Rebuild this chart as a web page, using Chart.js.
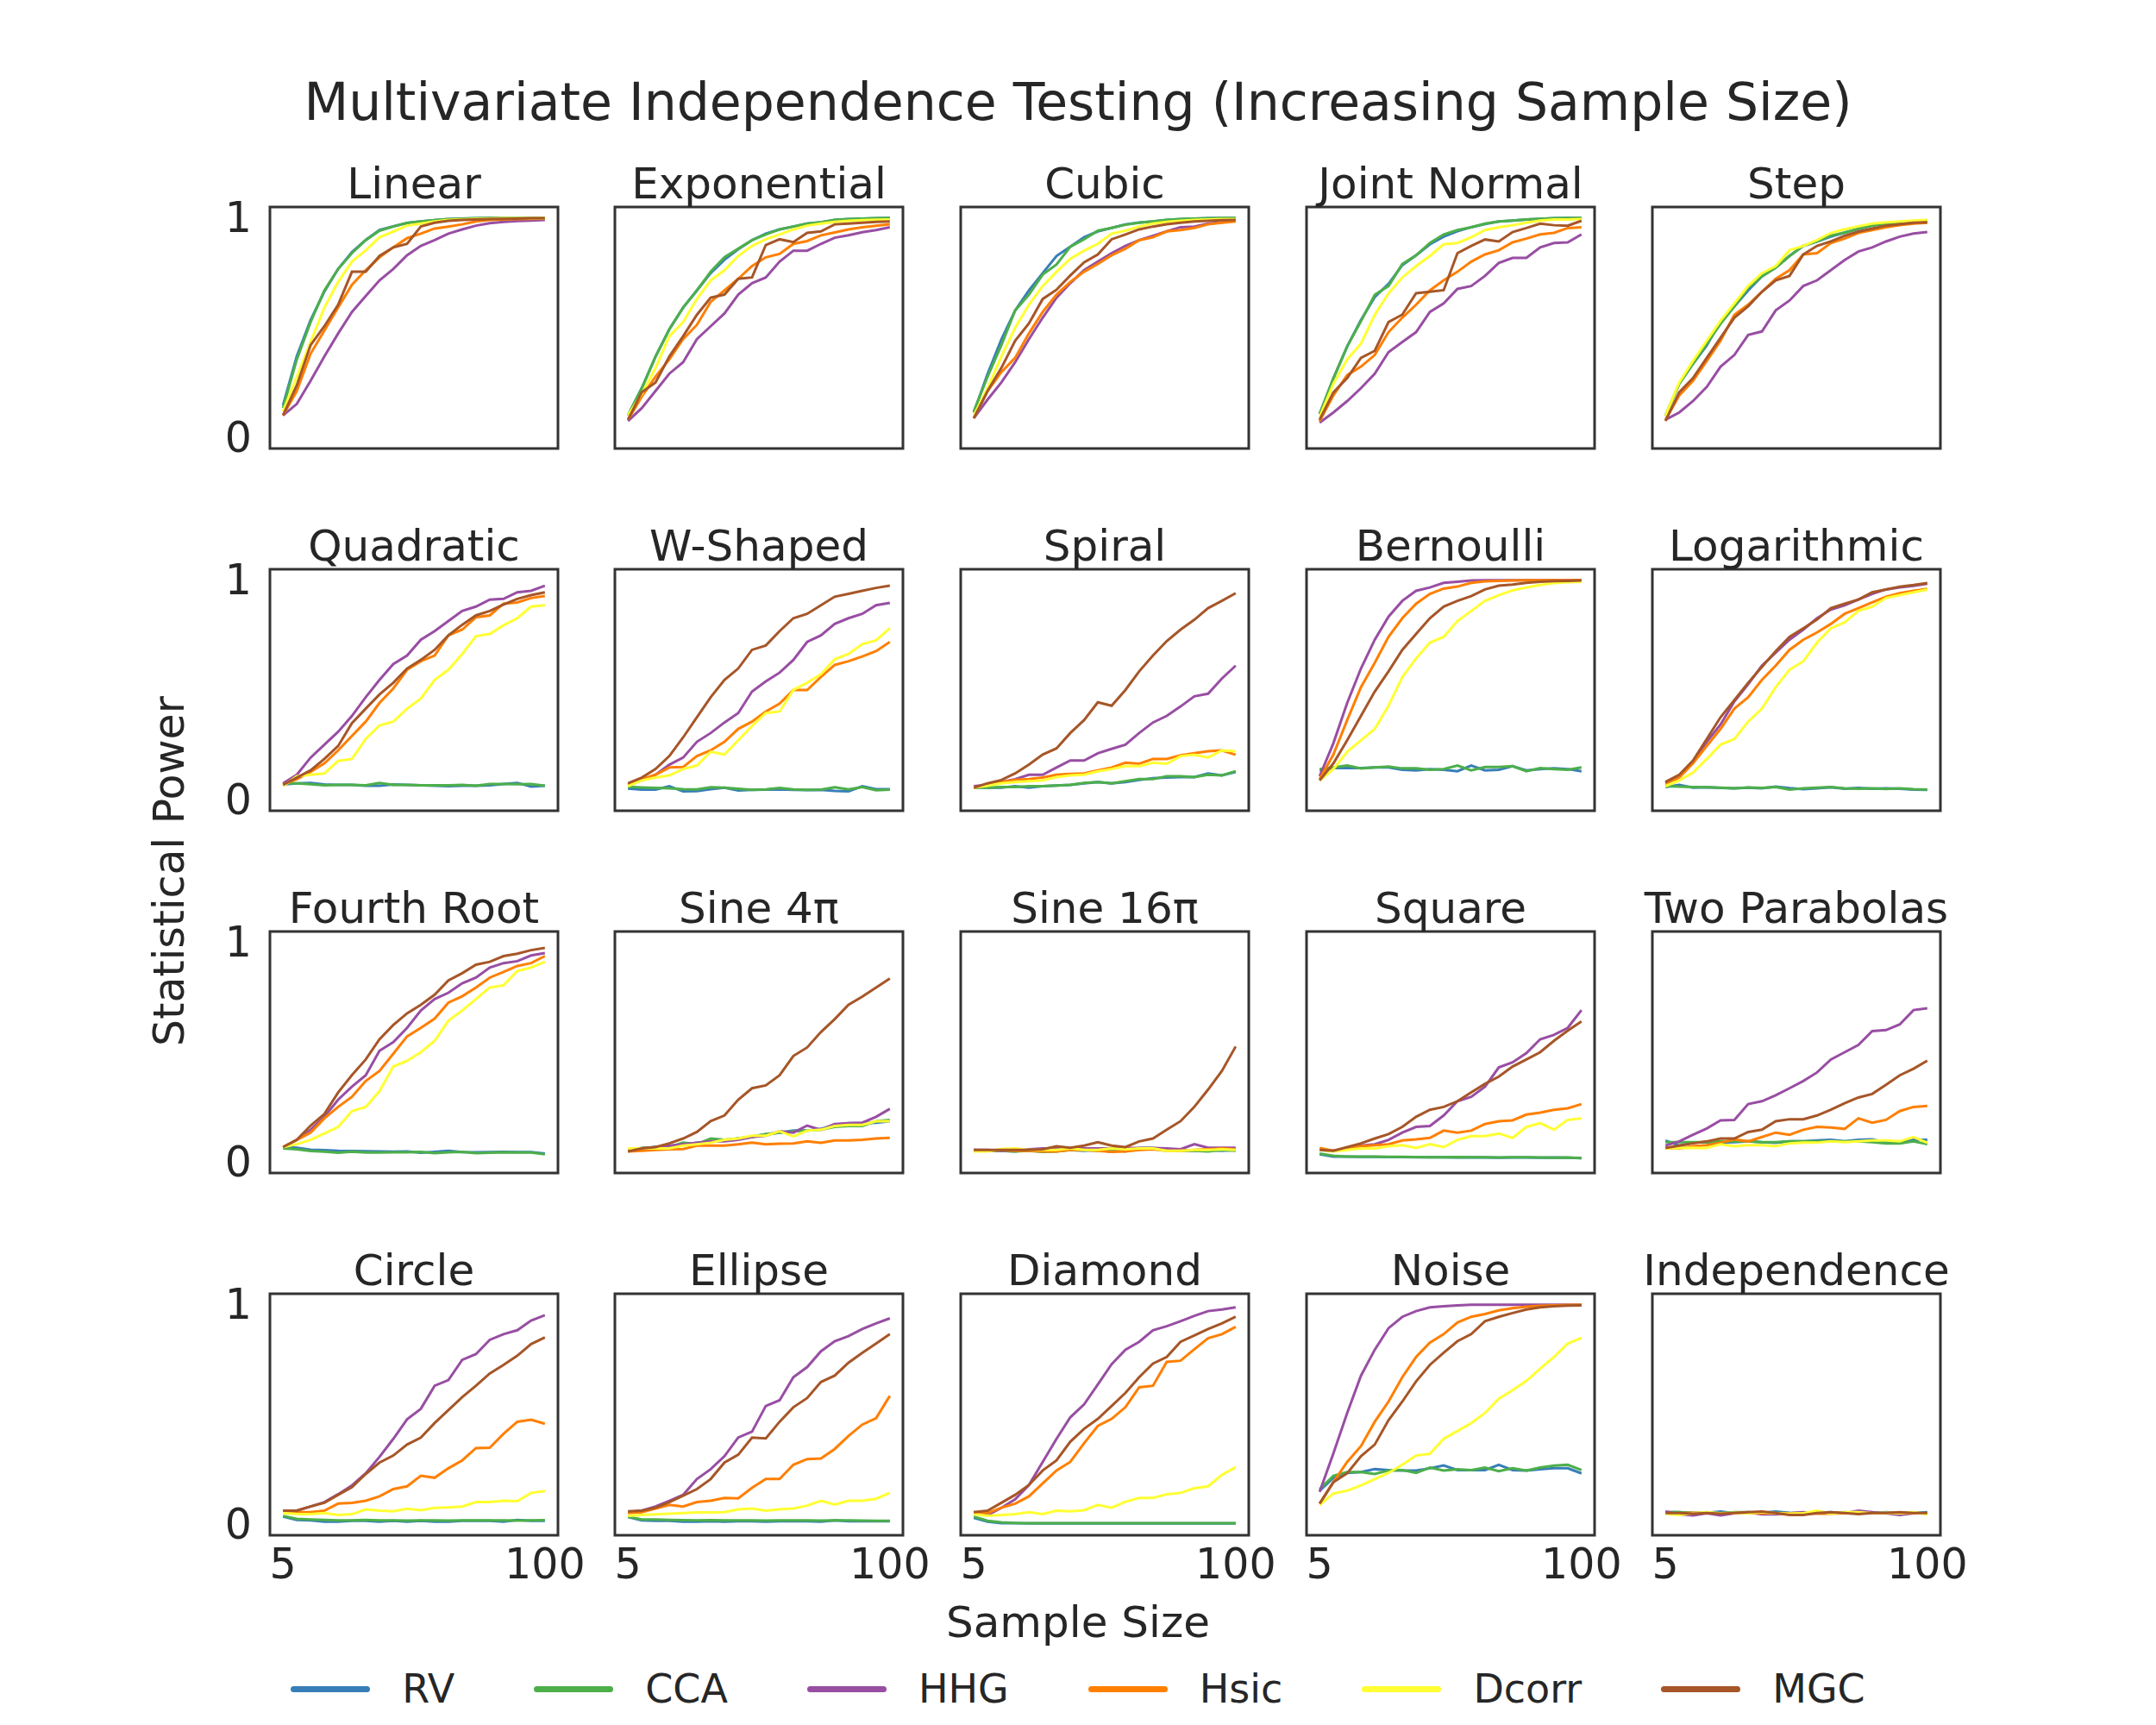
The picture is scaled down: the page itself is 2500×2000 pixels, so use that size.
<!DOCTYPE html>
<html>
<head>
<meta charset="utf-8">
<title>Multivariate Independence Testing (Increasing Sample Size)</title>
<script src="https://cdn.jsdelivr.net/npm/chart.js@4.4.1/dist/chart.umd.min.js"></script>
<style>
  html, body { margin: 0; padding: 0; background: #fff; }
  #page {
    position: relative;
    width: 2500px;
    height: 2000px;
    background: #fff;
    font-family: "DejaVu Sans", sans-serif;
    color: #262626;
    overflow: hidden;
  }
  .panel { position: absolute; }
  .label {
    position: absolute;
    white-space: nowrap;
    line-height: 1;
    transform: translate(-50%, -50%);
  }
  #suptitle { left: 1250px; top: 118px; font-size: 60px; }
  #xlabel { left: 1250px; top: 1881px; font-size: 50px; }
  #ylabel { left: 196px; top: 1010px; font-size: 49px; transform: translate(-50%, -50%) rotate(-90deg); }
  #legend {
    position: absolute;
    left: 0;
    top: 1958px;
    width: 2500px;
    display: flex;
    justify-content: center;
    transform: translateY(-50%);
    font-size: 46px;
    line-height: 1;
  }
  .item { display: flex; align-items: center; margin: 0 46px; }
  .swatch { width: 92px; height: 7px; border-radius: 4px; margin-right: 37px; }
</style>
</head>
<body>
<div id="page">
  <div class="label" id="suptitle">Multivariate Independence Testing (Increasing Sample Size)</div>
  <div class="label" id="xlabel">Sample Size</div>
  <div class="label" id="ylabel">Statistical Power</div>
  <div id="legend"></div>
</div>
<script>
const sampleSizes = [5, 10, 15, 20, 25, 30, 35, 40, 45, 50, 55, 60, 65, 70, 75, 80, 85, 90, 95, 100];
const methods = ["RV", "CCA", "HHG", "Hsic", "Dcorr", "MGC"];
const methodColors = ["#377eb8", "#4daf4a", "#984ea3", "#ff7f00", "#ffff33", "#a65628"];
const xTicks = [5, 100];
const yTicks = [0, 1];
const panelTitles = [
  "Linear", "Exponential", "Cubic", "Joint Normal", "Step",
  "Quadratic", "W-Shaped", "Spiral", "Bernoulli", "Logarithmic",
  "Fourth Root", "Sine 4π", "Sine 16π", "Square", "Two Parabolas",
  "Circle", "Ellipse", "Diamond", "Noise", "Independence"
];

// power per panel, rows follow the order of methods
const linear = [
  [0.147, 0.37, 0.535, 0.665, 0.768, 0.845, 0.9, 0.945, 0.962, 0.977, 0.984, 0.99, 0.995, 0.997, 0.999, 1, 1, 1, 1, 1],
  [0.134, 0.356, 0.526, 0.67, 0.768, 0.84, 0.899, 0.942, 0.961, 0.977, 0.984, 0.99, 0.995, 0.997, 0.999, 1, 1, 1, 1, 1],
  [0.101, 0.153, 0.258, 0.369, 0.474, 0.572, 0.644, 0.716, 0.768, 0.83, 0.873, 0.899, 0.929, 0.948, 0.965, 0.976, 0.982, 0.986, 0.988, 0.991],
  [0.101, 0.212, 0.382, 0.487, 0.592, 0.696, 0.762, 0.821, 0.866, 0.908, 0.929, 0.952, 0.961, 0.971, 0.984, 0.991, 0.993, 0.995, 0.996, 0.997],
  [0.12, 0.277, 0.435, 0.592, 0.709, 0.801, 0.853, 0.912, 0.938, 0.965, 0.974, 0.984, 0.991, 0.993, 0.996, 0.997, 0.999, 0.999, 0.999, 0.999],
  [0.101, 0.238, 0.421, 0.507, 0.605, 0.755, 0.755, 0.827, 0.866, 0.882, 0.961, 0.978, 0.987, 0.991, 0.993, 0.995, 0.996, 0.997, 0.999, 0.999]
];
const exponential = [
  [0.101, 0.225, 0.369, 0.493, 0.592, 0.67, 0.749, 0.81, 0.857, 0.899, 0.929, 0.948, 0.961, 0.974, 0.98, 0.991, 0.995, 0.997, 0.999, 1],
  [0.101, 0.225, 0.369, 0.493, 0.592, 0.67, 0.755, 0.821, 0.86, 0.899, 0.925, 0.948, 0.961, 0.974, 0.98, 0.991, 0.995, 0.997, 0.999, 1],
  [0.075, 0.134, 0.212, 0.291, 0.343, 0.448, 0.507, 0.565, 0.651, 0.703, 0.729, 0.801, 0.851, 0.851, 0.882, 0.91, 0.921, 0.935, 0.945, 0.958],
  [0.081, 0.186, 0.277, 0.356, 0.448, 0.513, 0.618, 0.67, 0.723, 0.781, 0.821, 0.836, 0.882, 0.895, 0.921, 0.934, 0.948, 0.958, 0.965, 0.971],
  [0.101, 0.199, 0.317, 0.461, 0.526, 0.631, 0.716, 0.762, 0.827, 0.873, 0.903, 0.925, 0.948, 0.965, 0.974, 0.982, 0.987, 0.99, 0.992, 0.993],
  [0.081, 0.206, 0.251, 0.369, 0.461, 0.559, 0.637, 0.651, 0.723, 0.729, 0.877, 0.903, 0.89, 0.932, 0.939, 0.971, 0.974, 0.978, 0.982, 0.984]
];
const cubic = [
  [0.114, 0.29, 0.447, 0.579, 0.67, 0.749, 0.827, 0.869, 0.912, 0.939, 0.955, 0.971, 0.979, 0.984, 0.991, 0.995, 0.997, 0.999, 1, 1],
  [0.12, 0.277, 0.421, 0.579, 0.651, 0.742, 0.788, 0.869, 0.903, 0.942, 0.955, 0.969, 0.978, 0.984, 0.991, 0.995, 0.997, 0.999, 1, 1],
  [0.088, 0.173, 0.251, 0.343, 0.448, 0.546, 0.637, 0.703, 0.762, 0.801, 0.84, 0.873, 0.899, 0.919, 0.939, 0.958, 0.961, 0.974, 0.98, 0.991],
  [0.088, 0.212, 0.298, 0.363, 0.474, 0.572, 0.651, 0.709, 0.755, 0.791, 0.83, 0.86, 0.899, 0.912, 0.939, 0.945, 0.955, 0.971, 0.978, 0.984],
  [0.101, 0.225, 0.369, 0.5, 0.605, 0.69, 0.755, 0.814, 0.851, 0.882, 0.929, 0.942, 0.961, 0.974, 0.982, 0.987, 0.991, 0.993, 0.995, 0.995],
  [0.088, 0.212, 0.317, 0.441, 0.52, 0.631, 0.673, 0.738, 0.798, 0.834, 0.903, 0.925, 0.948, 0.961, 0.971, 0.978, 0.984, 0.987, 0.99, 0.991]
];
const jointNormal = [
  [0.107, 0.27, 0.415, 0.535, 0.64, 0.7, 0.785, 0.83, 0.88, 0.915, 0.94, 0.958, 0.972, 0.984, 0.988, 0.993, 0.996, 0.999, 1, 1],
  [0.107, 0.27, 0.415, 0.53, 0.65, 0.69, 0.79, 0.83, 0.886, 0.925, 0.945, 0.958, 0.974, 0.984, 0.988, 0.993, 0.996, 0.999, 1, 1],
  [0.068, 0.114, 0.166, 0.225, 0.291, 0.389, 0.435, 0.48, 0.572, 0.611, 0.677, 0.69, 0.736, 0.795, 0.818, 0.818, 0.866, 0.886, 0.889, 0.925],
  [0.075, 0.192, 0.284, 0.323, 0.376, 0.48, 0.546, 0.605, 0.67, 0.716, 0.755, 0.801, 0.834, 0.853, 0.889, 0.906, 0.925, 0.932, 0.954, 0.958],
  [0.094, 0.245, 0.356, 0.428, 0.559, 0.657, 0.729, 0.781, 0.827, 0.88, 0.886, 0.912, 0.945, 0.958, 0.967, 0.978, 0.988, 0.993, 0.993, 0.995],
  [0.081, 0.206, 0.271, 0.363, 0.395, 0.526, 0.56, 0.657, 0.664, 0.671, 0.84, 0.873, 0.902, 0.893, 0.936, 0.954, 0.974, 0.967, 0.965, 0.987]
];
const step = [
  [0.1, 0.245, 0.336, 0.42, 0.53, 0.597, 0.67, 0.734, 0.774, 0.827, 0.873, 0.893, 0.915, 0.933, 0.95, 0.965, 0.974, 0.98, 0.984, 0.987],
  [0.1, 0.245, 0.336, 0.427, 0.518, 0.597, 0.682, 0.734, 0.774, 0.827, 0.873, 0.893, 0.92, 0.933, 0.952, 0.965, 0.974, 0.98, 0.984, 0.987],
  [0.081, 0.114, 0.166, 0.231, 0.323, 0.376, 0.467, 0.483, 0.579, 0.624, 0.69, 0.716, 0.762, 0.808, 0.847, 0.866, 0.893, 0.915, 0.929, 0.936],
  [0.081, 0.192, 0.258, 0.349, 0.441, 0.559, 0.605, 0.664, 0.723, 0.762, 0.834, 0.84, 0.886, 0.906, 0.932, 0.945, 0.958, 0.967, 0.974, 0.978],
  [0.1, 0.251, 0.349, 0.441, 0.532, 0.611, 0.69, 0.749, 0.781, 0.853, 0.873, 0.899, 0.932, 0.949, 0.962, 0.974, 0.98, 0.984, 0.988, 0.991],
  [0.075, 0.206, 0.271, 0.363, 0.454, 0.546, 0.598, 0.664, 0.716, 0.736, 0.834, 0.873, 0.893, 0.919, 0.938, 0.952, 0.965, 0.971, 0.978, 0.98]
];
const quadratic = [
  [0.07, 0.075, 0.077, 0.07, 0.068, 0.068, 0.064, 0.064, 0.07, 0.068, 0.066, 0.064, 0.062, 0.064, 0.064, 0.066, 0.072, 0.077, 0.06, 0.064],
  [0.075, 0.075, 0.071, 0.066, 0.068, 0.068, 0.066, 0.077, 0.068, 0.068, 0.066, 0.066, 0.066, 0.068, 0.064, 0.072, 0.072, 0.071, 0.072, 0.064],
  [0.075, 0.114, 0.192, 0.251, 0.31, 0.382, 0.467, 0.546, 0.618, 0.657, 0.729, 0.768, 0.814, 0.86, 0.88, 0.912, 0.915, 0.945, 0.952, 0.975],
  [0.068, 0.094, 0.127, 0.166, 0.225, 0.291, 0.356, 0.441, 0.507, 0.592, 0.631, 0.657, 0.749, 0.775, 0.831, 0.84, 0.893, 0.899, 0.919, 0.928],
  [0.062, 0.107, 0.114, 0.12, 0.177, 0.186, 0.277, 0.339, 0.356, 0.415, 0.461, 0.546, 0.592, 0.664, 0.745, 0.755, 0.795, 0.827, 0.88, 0.886],
  [0.068, 0.101, 0.134, 0.186, 0.245, 0.349, 0.415, 0.48, 0.533, 0.598, 0.637, 0.683, 0.749, 0.797, 0.84, 0.86, 0.889, 0.915, 0.932, 0.945]
];
const wShaped = [
  [0.051, 0.046, 0.046, 0.062, 0.038, 0.039, 0.048, 0.055, 0.042, 0.045, 0.046, 0.047, 0.045, 0.044, 0.045, 0.04, 0.038, 0.062, 0.048, 0.048],
  [0.059, 0.056, 0.054, 0.052, 0.048, 0.047, 0.057, 0.055, 0.05, 0.045, 0.047, 0.054, 0.047, 0.045, 0.046, 0.057, 0.047, 0.058, 0.043, 0.046],
  [0.068, 0.088, 0.114, 0.16, 0.192, 0.264, 0.304, 0.352, 0.395, 0.493, 0.539, 0.579, 0.637, 0.719, 0.749, 0.801, 0.827, 0.847, 0.886, 0.897],
  [0.068, 0.094, 0.114, 0.147, 0.149, 0.199, 0.225, 0.264, 0.323, 0.356, 0.402, 0.438, 0.5, 0.5, 0.559, 0.614, 0.631, 0.653, 0.677, 0.719],
  [0.062, 0.088, 0.101, 0.111, 0.14, 0.156, 0.219, 0.206, 0.271, 0.336, 0.395, 0.402, 0.5, 0.533, 0.572, 0.64, 0.664, 0.709, 0.726, 0.781],
  [0.075, 0.101, 0.14, 0.199, 0.284, 0.376, 0.467, 0.546, 0.598, 0.683, 0.703, 0.768, 0.827, 0.847, 0.886, 0.925, 0.938, 0.952, 0.965, 0.975]
];
const spiral = [
  [0.055, 0.055, 0.055, 0.062, 0.055, 0.062, 0.065, 0.068, 0.075, 0.081, 0.075, 0.081, 0.09, 0.098, 0.101, 0.103, 0.103, 0.12, 0.111, 0.127],
  [0.055, 0.055, 0.058, 0.058, 0.062, 0.062, 0.065, 0.068, 0.077, 0.081, 0.075, 0.085, 0.094, 0.094, 0.107, 0.107, 0.103, 0.114, 0.111, 0.13],
  [0.062, 0.068, 0.081, 0.094, 0.114, 0.114, 0.147, 0.179, 0.179, 0.212, 0.232, 0.251, 0.304, 0.352, 0.382, 0.425, 0.471, 0.483, 0.552, 0.611],
  [0.055, 0.068, 0.081, 0.09, 0.094, 0.101, 0.114, 0.118, 0.12, 0.134, 0.147, 0.169, 0.164, 0.186, 0.186, 0.203, 0.212, 0.221, 0.225, 0.205],
  [0.055, 0.064, 0.075, 0.081, 0.085, 0.088, 0.103, 0.111, 0.114, 0.13, 0.14, 0.153, 0.153, 0.169, 0.164, 0.199, 0.205, 0.192, 0.225, 0.221],
  [0.055, 0.075, 0.09, 0.12, 0.16, 0.206, 0.234, 0.304, 0.363, 0.444, 0.428, 0.5, 0.585, 0.657, 0.723, 0.775, 0.82, 0.873, 0.906, 0.941]
];
const bernoulli = [
  [0.134, 0.144, 0.144, 0.144, 0.147, 0.147, 0.137, 0.134, 0.14, 0.137, 0.13, 0.156, 0.134, 0.137, 0.153, 0.134, 0.14, 0.143, 0.14, 0.13],
  [0.14, 0.147, 0.156, 0.143, 0.147, 0.151, 0.143, 0.143, 0.137, 0.14, 0.156, 0.134, 0.149, 0.149, 0.153, 0.13, 0.144, 0.14, 0.137, 0.147],
  [0.107, 0.258, 0.441, 0.598, 0.729, 0.834, 0.906, 0.952, 0.967, 0.988, 0.993, 0.999, 1, 1, 1, 1, 1, 1, 1, 1],
  [0.094, 0.206, 0.363, 0.513, 0.624, 0.742, 0.827, 0.893, 0.938, 0.962, 0.971, 0.988, 0.995, 0.997, 0.999, 1, 1, 1, 1, 1],
  [0.088, 0.14, 0.219, 0.271, 0.323, 0.428, 0.559, 0.644, 0.716, 0.742, 0.814, 0.86, 0.906, 0.932, 0.954, 0.967, 0.978, 0.987, 0.991, 0.993],
  [0.088, 0.166, 0.271, 0.382, 0.493, 0.585, 0.683, 0.755, 0.827, 0.88, 0.906, 0.928, 0.958, 0.975, 0.98, 0.988, 0.993, 0.996, 0.997, 0.999]
];
const logarithmic = [
  [0.058, 0.068, 0.055, 0.057, 0.054, 0.052, 0.055, 0.052, 0.06, 0.053, 0.048, 0.052, 0.057, 0.05, 0.054, 0.05, 0.052, 0.05, 0.046, 0.045],
  [0.062, 0.06, 0.058, 0.057, 0.055, 0.052, 0.056, 0.054, 0.058, 0.046, 0.052, 0.055, 0.058, 0.052, 0.05, 0.052, 0.049, 0.052, 0.048, 0.046],
  [0.075, 0.107, 0.173, 0.264, 0.343, 0.448, 0.526, 0.611, 0.67, 0.729, 0.775, 0.827, 0.866, 0.886, 0.912, 0.938, 0.958, 0.967, 0.974, 0.984],
  [0.068, 0.101, 0.166, 0.245, 0.323, 0.415, 0.467, 0.546, 0.611, 0.683, 0.729, 0.762, 0.801, 0.847, 0.873, 0.899, 0.925, 0.941, 0.952, 0.961],
  [0.062, 0.088, 0.124, 0.186, 0.251, 0.277, 0.356, 0.415, 0.513, 0.592, 0.631, 0.716, 0.781, 0.808, 0.86, 0.88, 0.919, 0.932, 0.945, 0.958],
  [0.081, 0.114, 0.179, 0.277, 0.376, 0.454, 0.533, 0.605, 0.677, 0.742, 0.781, 0.821, 0.873, 0.893, 0.912, 0.945, 0.958, 0.971, 0.978, 0.987]
];
const fourthRoot = [
  [0.068, 0.065, 0.056, 0.054, 0.051, 0.05, 0.049, 0.048, 0.047, 0.048, 0.042, 0.046, 0.051, 0.045, 0.044, 0.045, 0.046, 0.045, 0.045, 0.038],
  [0.062, 0.058, 0.05, 0.047, 0.042, 0.047, 0.043, 0.043, 0.044, 0.044, 0.046, 0.04, 0.044, 0.046, 0.04, 0.042, 0.044, 0.043, 0.043, 0.035],
  [0.068, 0.101, 0.147, 0.206, 0.284, 0.343, 0.395, 0.507, 0.546, 0.611, 0.69, 0.742, 0.771, 0.814, 0.84, 0.886, 0.906, 0.915, 0.941, 0.952],
  [0.068, 0.101, 0.134, 0.199, 0.251, 0.297, 0.369, 0.415, 0.493, 0.572, 0.611, 0.653, 0.726, 0.755, 0.795, 0.84, 0.866, 0.893, 0.906, 0.938],
  [0.068, 0.081, 0.101, 0.13, 0.16, 0.232, 0.251, 0.323, 0.435, 0.461, 0.5, 0.552, 0.644, 0.69, 0.742, 0.795, 0.805, 0.87, 0.886, 0.912],
  [0.068, 0.101, 0.166, 0.219, 0.317, 0.396, 0.467, 0.559, 0.624, 0.677, 0.716, 0.762, 0.827, 0.86, 0.899, 0.912, 0.938, 0.949, 0.965, 0.975]
];
const sine4pi = [
  [0.055, 0.062, 0.068, 0.072, 0.081, 0.088, 0.094, 0.098, 0.107, 0.116, 0.127, 0.134, 0.143, 0.143, 0.151, 0.169, 0.177, 0.177, 0.179, 0.186],
  [0.055, 0.064, 0.068, 0.068, 0.088, 0.081, 0.107, 0.101, 0.107, 0.114, 0.127, 0.134, 0.14, 0.143, 0.147, 0.16, 0.164, 0.164, 0.186, 0.192],
  [0.055, 0.062, 0.068, 0.075, 0.081, 0.088, 0.094, 0.094, 0.101, 0.114, 0.12, 0.14, 0.134, 0.166, 0.147, 0.173, 0.177, 0.179, 0.206, 0.242],
  [0.048, 0.051, 0.055, 0.058, 0.059, 0.075, 0.075, 0.075, 0.081, 0.088, 0.081, 0.084, 0.085, 0.094, 0.088, 0.098, 0.098, 0.101, 0.107, 0.11],
  [0.062, 0.062, 0.062, 0.062, 0.075, 0.081, 0.088, 0.101, 0.107, 0.12, 0.12, 0.14, 0.116, 0.143, 0.147, 0.164, 0.169, 0.169, 0.186, 0.186],
  [0.048, 0.062, 0.068, 0.085, 0.107, 0.137, 0.186, 0.212, 0.284, 0.336, 0.349, 0.395, 0.483, 0.522, 0.592, 0.651, 0.716, 0.753, 0.795, 0.836]
];
const sine16pi = [
  [0.055, 0.051, 0.051, 0.048, 0.055, 0.055, 0.055, 0.055, 0.051, 0.055, 0.046, 0.055, 0.062, 0.062, 0.055, 0.055, 0.051, 0.055, 0.051, 0.055],
  [0.051, 0.051, 0.051, 0.048, 0.051, 0.046, 0.048, 0.055, 0.055, 0.051, 0.055, 0.048, 0.064, 0.064, 0.055, 0.051, 0.051, 0.048, 0.055, 0.051],
  [0.055, 0.055, 0.051, 0.055, 0.058, 0.062, 0.062, 0.062, 0.062, 0.062, 0.062, 0.064, 0.064, 0.064, 0.062, 0.058, 0.081, 0.065, 0.065, 0.065],
  [0.051, 0.051, 0.055, 0.051, 0.051, 0.048, 0.048, 0.055, 0.055, 0.051, 0.046, 0.048, 0.055, 0.058, 0.051, 0.051, 0.055, 0.058, 0.062, 0.058],
  [0.048, 0.048, 0.059, 0.062, 0.055, 0.055, 0.055, 0.062, 0.055, 0.055, 0.062, 0.058, 0.062, 0.062, 0.051, 0.051, 0.055, 0.055, 0.058, 0.055],
  [0.055, 0.055, 0.055, 0.055, 0.055, 0.058, 0.072, 0.065, 0.075, 0.09, 0.075, 0.068, 0.094, 0.107, 0.147, 0.186, 0.251, 0.33, 0.415, 0.526]
];
const square = [
  [0.035, 0.025, 0.025, 0.024, 0.024, 0.023, 0.023, 0.022, 0.022, 0.022, 0.021, 0.022, 0.021, 0.02, 0.021, 0.021, 0.02, 0.021, 0.02, 0.018],
  [0.038, 0.029, 0.025, 0.025, 0.025, 0.024, 0.024, 0.023, 0.022, 0.022, 0.023, 0.022, 0.022, 0.021, 0.022, 0.022, 0.021, 0.02, 0.021, 0.018],
  [0.055, 0.051, 0.062, 0.075, 0.081, 0.101, 0.134, 0.16, 0.164, 0.212, 0.277, 0.297, 0.343, 0.431, 0.454, 0.496, 0.559, 0.579, 0.611, 0.692],
  [0.064, 0.051, 0.062, 0.072, 0.077, 0.081, 0.098, 0.103, 0.11, 0.143, 0.134, 0.143, 0.173, 0.186, 0.19, 0.216, 0.225, 0.238, 0.245, 0.264],
  [0.055, 0.048, 0.055, 0.062, 0.062, 0.072, 0.077, 0.064, 0.081, 0.068, 0.101, 0.118, 0.118, 0.13, 0.11, 0.16, 0.177, 0.147, 0.192, 0.199],
  [0.055, 0.051, 0.068, 0.085, 0.107, 0.127, 0.16, 0.206, 0.238, 0.251, 0.277, 0.317, 0.356, 0.389, 0.435, 0.467, 0.5, 0.552, 0.598, 0.64]
];
const twoParabolas = [
  [0.098, 0.075, 0.088, 0.09, 0.088, 0.09, 0.094, 0.09, 0.088, 0.094, 0.094, 0.098, 0.101, 0.094, 0.101, 0.103, 0.09, 0.09, 0.101, 0.101],
  [0.09, 0.09, 0.09, 0.09, 0.094, 0.094, 0.094, 0.09, 0.09, 0.094, 0.094, 0.094, 0.094, 0.094, 0.094, 0.09, 0.085, 0.085, 0.094, 0.081],
  [0.075, 0.094, 0.124, 0.153, 0.19, 0.192, 0.264, 0.277, 0.304, 0.336, 0.369, 0.408, 0.467, 0.5, 0.533, 0.596, 0.601, 0.627, 0.692, 0.7],
  [0.064, 0.062, 0.072, 0.077, 0.088, 0.103, 0.094, 0.114, 0.134, 0.124, 0.147, 0.16, 0.157, 0.151, 0.199, 0.179, 0.192, 0.232, 0.251, 0.255],
  [0.062, 0.064, 0.065, 0.064, 0.081, 0.072, 0.077, 0.077, 0.072, 0.085, 0.088, 0.088, 0.094, 0.09, 0.094, 0.098, 0.098, 0.094, 0.114, 0.088],
  [0.064, 0.075, 0.085, 0.094, 0.107, 0.107, 0.137, 0.147, 0.186, 0.195, 0.195, 0.212, 0.238, 0.268, 0.294, 0.31, 0.352, 0.395, 0.425, 0.462]
];
const circle = [
  [0.035, 0.02, 0.018, 0.012, 0.012, 0.016, 0.016, 0.012, 0.016, 0.012, 0.016, 0.012, 0.012, 0.016, 0.016, 0.016, 0.012, 0.02, 0.016, 0.016],
  [0.038, 0.025, 0.022, 0.02, 0.018, 0.018, 0.02, 0.018, 0.018, 0.017, 0.018, 0.018, 0.017, 0.018, 0.018, 0.018, 0.018, 0.017, 0.018, 0.019],
  [0.062, 0.062, 0.081, 0.101, 0.137, 0.177, 0.232, 0.307, 0.389, 0.478, 0.526, 0.631, 0.657, 0.749, 0.775, 0.84, 0.866, 0.884, 0.928, 0.952],
  [0.059, 0.055, 0.055, 0.062, 0.094, 0.097, 0.107, 0.127, 0.16, 0.173, 0.221, 0.212, 0.255, 0.291, 0.347, 0.349, 0.412, 0.467, 0.476, 0.458],
  [0.051, 0.046, 0.046, 0.051, 0.042, 0.046, 0.068, 0.062, 0.059, 0.071, 0.064, 0.075, 0.077, 0.081, 0.101, 0.101, 0.107, 0.105, 0.143, 0.151],
  [0.062, 0.062, 0.081, 0.098, 0.134, 0.169, 0.229, 0.281, 0.313, 0.363, 0.395, 0.461, 0.52, 0.579, 0.631, 0.687, 0.726, 0.768, 0.821, 0.851]
];
const ellipse = [
  [0.033, 0.018, 0.016, 0.016, 0.012, 0.012, 0.014, 0.012, 0.014, 0.014, 0.012, 0.014, 0.014, 0.014, 0.012, 0.018, 0.014, 0.014, 0.014, 0.014],
  [0.035, 0.022, 0.022, 0.02, 0.019, 0.018, 0.019, 0.018, 0.018, 0.018, 0.017, 0.018, 0.018, 0.018, 0.017, 0.018, 0.018, 0.017, 0.016, 0.016],
  [0.055, 0.062, 0.081, 0.107, 0.134, 0.206, 0.251, 0.31, 0.395, 0.422, 0.539, 0.565, 0.67, 0.716, 0.788, 0.834, 0.857, 0.889, 0.915, 0.938],
  [0.051, 0.055, 0.072, 0.088, 0.081, 0.101, 0.107, 0.12, 0.118, 0.166, 0.206, 0.206, 0.271, 0.297, 0.3, 0.343, 0.402, 0.454, 0.483, 0.585],
  [0.038, 0.042, 0.045, 0.048, 0.051, 0.054, 0.054, 0.055, 0.068, 0.072, 0.062, 0.068, 0.072, 0.085, 0.107, 0.09, 0.107, 0.107, 0.116, 0.143],
  [0.059, 0.062, 0.075, 0.101, 0.13, 0.16, 0.206, 0.281, 0.317, 0.395, 0.391, 0.467, 0.533, 0.575, 0.648, 0.677, 0.736, 0.781, 0.823, 0.866]
];
const diamond = [
  [0.029, 0.012, 0.005, 0.005, 0.004, 0.004, 0.004, 0.004, 0.004, 0.004, 0.004, 0.004, 0.004, 0.004, 0.004, 0.004, 0.004, 0.004, 0.004, 0.004],
  [0.035, 0.016, 0.009, 0.006, 0.005, 0.005, 0.005, 0.005, 0.005, 0.005, 0.005, 0.005, 0.005, 0.005, 0.005, 0.005, 0.005, 0.005, 0.005, 0.005],
  [0.055, 0.042, 0.075, 0.114, 0.179, 0.284, 0.389, 0.487, 0.546, 0.637, 0.729, 0.795, 0.831, 0.884, 0.902, 0.925, 0.949, 0.971, 0.978, 0.988],
  [0.055, 0.051, 0.075, 0.094, 0.127, 0.186, 0.245, 0.284, 0.369, 0.448, 0.48, 0.533, 0.624, 0.631, 0.74, 0.745, 0.797, 0.847, 0.866, 0.899],
  [0.046, 0.038, 0.042, 0.046, 0.055, 0.046, 0.062, 0.059, 0.064, 0.088, 0.075, 0.103, 0.12, 0.12, 0.137, 0.143, 0.164, 0.173, 0.225, 0.26],
  [0.055, 0.062, 0.098, 0.134, 0.179, 0.245, 0.291, 0.376, 0.435, 0.48, 0.539, 0.598, 0.67, 0.732, 0.762, 0.831, 0.86, 0.889, 0.915, 0.945]
];
const noise = [
  [0.153, 0.212, 0.234, 0.238, 0.251, 0.247, 0.245, 0.245, 0.255, 0.268, 0.247, 0.247, 0.247, 0.271, 0.247, 0.245, 0.251, 0.255, 0.255, 0.232],
  [0.16, 0.221, 0.238, 0.238, 0.229, 0.245, 0.247, 0.234, 0.258, 0.245, 0.251, 0.247, 0.258, 0.242, 0.255, 0.245, 0.258, 0.267, 0.271, 0.247],
  [0.147, 0.323, 0.507, 0.677, 0.795, 0.893, 0.945, 0.971, 0.988, 0.993, 0.997, 1, 1, 1, 1, 1, 1, 1, 1, 1],
  [0.094, 0.192, 0.284, 0.356, 0.467, 0.559, 0.67, 0.762, 0.827, 0.866, 0.919, 0.945, 0.958, 0.974, 0.984, 0.991, 0.995, 0.997, 0.999, 1],
  [0.088, 0.14, 0.153, 0.177, 0.206, 0.234, 0.271, 0.313, 0.321, 0.389, 0.425, 0.461, 0.507, 0.572, 0.611, 0.653, 0.709, 0.762, 0.823, 0.849],
  [0.094, 0.192, 0.232, 0.31, 0.363, 0.474, 0.559, 0.651, 0.726, 0.781, 0.834, 0.866, 0.925, 0.945, 0.962, 0.978, 0.988, 0.993, 0.996, 0.997]
];
const independence = [
  [0.055, 0.055, 0.05, 0.052, 0.058, 0.05, 0.052, 0.052, 0.058, 0.052, 0.05, 0.052, 0.055, 0.05, 0.052, 0.05, 0.055, 0.05, 0.05, 0.055],
  [0.055, 0.055, 0.052, 0.052, 0.05, 0.055, 0.055, 0.052, 0.052, 0.05, 0.052, 0.05, 0.052, 0.055, 0.05, 0.055, 0.05, 0.05, 0.052, 0.05],
  [0.058, 0.045, 0.04, 0.05, 0.04, 0.05, 0.055, 0.045, 0.045, 0.05, 0.055, 0.05, 0.05, 0.05, 0.062, 0.055, 0.05, 0.042, 0.05, 0.05],
  [0.05, 0.05, 0.052, 0.05, 0.05, 0.05, 0.052, 0.05, 0.05, 0.048, 0.05, 0.048, 0.048, 0.05, 0.052, 0.05, 0.05, 0.052, 0.05, 0.05],
  [0.048, 0.042, 0.05, 0.055, 0.05, 0.052, 0.05, 0.055, 0.05, 0.048, 0.05, 0.062, 0.048, 0.055, 0.055, 0.05, 0.052, 0.05, 0.055, 0.045],
  [0.051, 0.051, 0.048, 0.051, 0.048, 0.051, 0.055, 0.058, 0.051, 0.042, 0.042, 0.051, 0.055, 0.051, 0.046, 0.051, 0.051, 0.055, 0.051, 0.051]
];

const panelData = [
  linear, exponential, cubic, jointNormal, step,
  quadratic, wShaped, spiral, bernoulli, logarithmic,
  fourthRoot, sine4pi, sine16pi, square, twoParabolas,
  circle, ellipse, diamond, noise, independence
];

const FONT = "'DejaVu Sans', sans-serif";
const TEXT = "#262626";

// grid geometry (px on the 2500x2000 page)
const boxLeft0 = 312.5, boxGapX = 400.9, boxW = 334;
const boxTop0 = 240, boxGapY = 420, boxH = 280;
const axisW = 90, titleH = 50, axisH = 70, padRight = 60;

// draws the axes frame and the panel title
const panelFrame = {
  id: "panelFrame",
  afterDraw(chart, args, opts) {
    const { ctx, chartArea: a } = chart;
    ctx.save();
    ctx.strokeStyle = "#333333";
    ctx.lineWidth = 3;
    ctx.strokeRect(a.left, a.top, a.right - a.left, a.bottom - a.top);
    ctx.fillStyle = TEXT;
    ctx.font = "50px " + FONT;
    ctx.textAlign = "center";
    ctx.textBaseline = "alphabetic";
    ctx.fillText(opts.text, (a.left + a.right) / 2, a.top - 10);
    ctx.restore();
  }
};

const page = document.getElementById("page");

panelData.forEach((values, i) => {
  const row = Math.floor(i / 5);
  const col = i % 5;
  const left = Math.round(boxLeft0 + col * boxGapX) - axisW;
  const top = boxTop0 + row * boxGapY - titleH;

  const holder = document.createElement("div");
  holder.className = "panel";
  holder.style.left = left + "px";
  holder.style.top = top + "px";
  const canvas = document.createElement("canvas");
  canvas.width = axisW + boxW + padRight;
  canvas.height = titleH + boxH + axisH;
  canvas.style.width = canvas.width + "px";
  canvas.style.height = canvas.height + "px";
  holder.appendChild(canvas);
  page.appendChild(holder);

  new Chart(canvas, {
    type: "line",
    data: {
      datasets: methods.map((m, k) => ({
        label: m,
        data: sampleSizes.map((n, j) => ({ x: n, y: values[k][j] })),
        borderColor: methodColors[k],
        backgroundColor: methodColors[k],
        borderWidth: 3,
        pointRadius: 0,
        fill: false,
        tension: 0,
        order: methods.length - 1 - k
      }))
    },
    options: {
      responsive: false,
      animation: false,
      devicePixelRatio: 1,
      layout: { padding: { top: titleH, right: padRight, left: 0, bottom: 0 } },
      plugins: {
        legend: { display: false },
        tooltip: { enabled: false },
        title: { display: false },
        panelFrame: { text: panelTitles[i] }
      },
      scales: {
        x: {
          type: "linear",
          min: 0.25,
          max: 104.75,
          afterBuildTicks: (s) => { s.ticks = xTicks.map((v) => ({ value: v })); },
          afterFit: (s) => { s.height = axisH; },
          grid: { display: false, drawTicks: false, tickLength: 0 },
          border: { display: false },
          ticks: {
            display: row === 3,
            autoSkip: false,
            maxRotation: 0,
            padding: 13,
            color: TEXT,
            font: { family: FONT, size: 49, lineHeight: 1 }
          }
        },
        y: {
          type: "linear",
          min: -0.05,
          max: 1.05,
          afterBuildTicks: (s) => { s.ticks = yTicks.map((v) => ({ value: v })); },
          afterFit: (s) => { s.width = axisW; },
          grid: { display: false, drawTicks: false, tickLength: 0 },
          border: { display: false },
          ticks: {
            display: col === 0,
            padding: 21,
            labelOffset: 4,
            color: TEXT,
            font: { family: FONT, size: 49, lineHeight: 1 }
          }
        }
      }
    },
    plugins: [panelFrame]
  });
});

// legend row under the grid
const legend = document.getElementById("legend");
methods.forEach((m, k) => {
  const item = document.createElement("div");
  item.className = "item";
  item.innerHTML = `<span class="swatch" style="background:${methodColors[k]}"></span><span>${m}</span>`;
  legend.appendChild(item);
});
</script>
</body>
</html>
